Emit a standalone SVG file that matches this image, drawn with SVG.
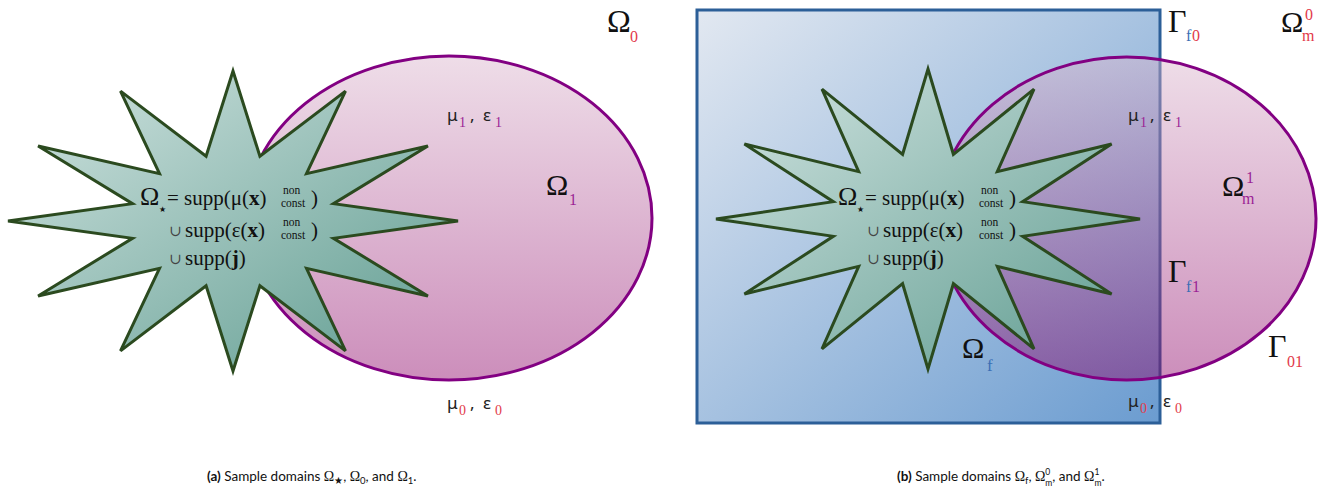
<svg xmlns="http://www.w3.org/2000/svg" width="1320" height="489" viewBox="0 0 1320 489">
<defs>
<linearGradient id="pinkG" x1="0" y1="0" x2="0" y2="1">
<stop offset="0" stop-color="#dab4cc"/>
<stop offset="1" stop-color="#8e0468"/>
</linearGradient>
<linearGradient id="starG" x1="0" y1="0" x2="1" y2="1">
<stop offset="0" stop-color="#d2e4e1"/>
<stop offset="1" stop-color="#5f9c90"/>
</linearGradient>
<linearGradient id="blueG" x1="0" y1="0" x2="1" y2="1">
<stop offset="0" stop-color="#e2e8f1"/>
<stop offset="1" stop-color="#6b9cd0"/>
</linearGradient>
</defs>
<style>
.ell{fill:url(#pinkG);fill-opacity:0.45;stroke:#820082;stroke-width:3}
.star{fill:url(#starG);stroke:#2b4a1f;stroke-width:3;stroke-linejoin:miter}
.box{fill:url(#blueG);stroke:#2c5f98;stroke-width:3}
.m{font-family:"Liberation Serif","DejaVu Serif",serif;fill:#111}
.s{font-family:"Noto Sans","DejaVu Sans",sans-serif;fill:#222}
.cap{font-family:Lato,"Liberation Sans",sans-serif;font-size:13.5px;fill:#111}
.cm{font-family:"Liberation Serif","DejaVu Serif",serif;font-size:14px}
.cs{font-size:9.5px}
.cs2{font-size:8.5px}
.red{fill:#e23a4a}
.pur{fill:#9b1f95}
.blu{fill:#3c6fb5}
.cup{fill:#444;font-size:15px}
.nc{font-size:11.5px}
</style>
<g id="connectors"/>

<!-- Panel (a) -->
<g id="panel-a">
<g id="omega1-a"><ellipse class="ell" cx="449" cy="218" rx="203" ry="162"/></g>
<g id="star-a">
<polygon class="star" points="233,71 259.9,156.3 345.5,91.1 306.5,173.6 427.9,146 333.5,203.7 458,221 333.5,238.3 427.9,296 306.5,268.4 345.5,350.9 259.9,285.7 233,371 206.1,285.7 120.5,350.9 159.5,268.4 38.1,296 132.5,238.3 8,221 132.5,203.7 38.1,146 159.5,173.6 120.5,91.1 206.1,156.3"/>
<text class="m" font-size="21">
<tspan x="140" y="205" font-size="26">Ω</tspan><tspan x="159" y="212" font-size="8">★</tspan><tspan x="167" y="205">=</tspan><tspan x="184" y="205">supp(μ(</tspan><tspan font-weight="bold">x</tspan><tspan>)</tspan>
</text>
<text class="m nc" x="283" y="194">non</text><text class="m nc" x="281" y="207">const</text><text class="m" x="311" y="205" font-size="21">)</text>
<text class="m" font-size="21">
<tspan x="169" y="236" class="cup">∪</tspan><tspan x="185" y="237">supp(ε(</tspan><tspan font-weight="bold">x</tspan><tspan>)</tspan>
</text>
<text class="m nc" x="283" y="226">non</text><text class="m nc" x="281" y="239">const</text><text class="m" x="311" y="237" font-size="21">)</text>
<text class="m" font-size="21">
<tspan x="169" y="264" class="cup">∪</tspan><tspan x="185" y="265">supp(</tspan><tspan font-weight="bold">j</tspan><tspan>)</tspan>
</text>
</g>
<g id="labels-a">
<text class="m" x="607" y="32" font-size="32">Ω</text><text class="m red" x="630" y="42" font-size="16">0</text>
<text class="m" x="546" y="195" font-size="30">Ω</text><text class="m pur" x="569" y="205" font-size="16">1</text>
<text class="s" x="447" y="121" font-size="17">μ</text><text class="m pur" x="459" y="127" font-size="14">1</text><text class="s" x="470" y="121" font-size="17">,</text><text class="s" x="483" y="121" font-size="17">ε</text><text class="m pur" x="495" y="127" font-size="14">1</text>
<text class="s" x="447" y="409" font-size="17">μ</text><text class="m red" x="459" y="415" font-size="14">0</text><text class="s" x="470" y="409" font-size="17">,</text><text class="s" x="483" y="409" font-size="17">ε</text><text class="m red" x="495" y="415" font-size="14">0</text>
</g>
<g id="caption-a">
<text class="cap" x="207" y="481"><tspan font-weight="bold">(a)</tspan> Sample domains <tspan class="cm">Ω</tspan><tspan class="cs" dy="3">★</tspan><tspan dy="-3">, </tspan><tspan class="cm">Ω</tspan><tspan class="cs" dy="3">0</tspan><tspan dy="-3">, and </tspan><tspan class="cm">Ω</tspan><tspan class="cs" dy="3">1</tspan><tspan dy="-3">.</tspan></text>
</g>
</g>

<!-- Panel (b) -->
<g id="panel-b">
<g id="omega-f"><rect class="box" x="697" y="10" width="463" height="413"/></g>
<g id="omega-m1"><ellipse class="ell" cx="1126.6" cy="218.5" rx="189.4" ry="161.5"/></g>
<g id="star-b">
<polygon class="star" points="928,69 953.4,154.3 1034,89.1 997.3,171.6 1111.6,144 1022.7,201.7 1140,219 1022.7,236.3 1111.6,294 997.3,266.4 1034,348.9 953.4,283.7 928,369 902.6,283.7 822,348.9 858.7,266.4 744.4,294 833.3,236.3 716,219 833.3,201.7 744.4,144 858.7,171.6 822,89.1 902.6,154.3"/>
<text class="m" font-size="21">
<tspan x="838" y="205" font-size="26">Ω</tspan><tspan x="857" y="212" font-size="8">★</tspan><tspan x="865" y="205">=</tspan><tspan x="882" y="205">supp(μ(</tspan><tspan font-weight="bold">x</tspan><tspan>)</tspan>
</text>
<text class="m nc" x="981" y="194">non</text><text class="m nc" x="979" y="207">const</text><text class="m" x="1009" y="205" font-size="21">)</text>
<text class="m" font-size="21">
<tspan x="867" y="236" class="cup">∪</tspan><tspan x="883" y="237">supp(ε(</tspan><tspan font-weight="bold">x</tspan><tspan>)</tspan>
</text>
<text class="m nc" x="981" y="226">non</text><text class="m nc" x="979" y="239">const</text><text class="m" x="1009" y="237" font-size="21">)</text>
<text class="m" font-size="21">
<tspan x="867" y="264" class="cup">∪</tspan><tspan x="883" y="265">supp(</tspan><tspan font-weight="bold">j</tspan><tspan>)</tspan>
</text>
</g>
<g id="labels-b">
<text class="m" x="1168" y="32" font-size="32">Γ</text><text class="m blu" x="1186" y="41" font-size="16">f</text><text class="m red" x="1192" y="41" font-size="16">0</text>
<text class="m" x="1281" y="32" font-size="30">Ω</text><text class="m red" x="1305" y="20" font-size="16">0</text><text class="m red" x="1302" y="41" font-size="16">m</text>
<text class="s" x="1128" y="121" font-size="17">μ</text><text class="m pur" x="1140" y="127" font-size="14">1</text><text class="s" x="1150" y="121" font-size="17">,</text><text class="s" x="1163" y="121" font-size="17">ε</text><text class="m pur" x="1175" y="127" font-size="14">1</text>
<text class="m" x="1222" y="196" font-size="30">Ω</text><text class="m pur" x="1246" y="183" font-size="16">1</text><text class="m pur" x="1242" y="204" font-size="16">m</text>
<text class="m" x="1168" y="282" font-size="32">Γ</text><text class="m blu" x="1186" y="292" font-size="16">f</text><text class="m pur" x="1192" y="292" font-size="16">1</text>
<text class="m" x="1268" y="357" font-size="32">Γ</text><text class="m red" x="1287" y="367" font-size="16">01</text>
<text class="m" x="962" y="358" font-size="30">Ω</text><text class="m blu" x="987" y="371" font-size="17">f</text>
<text class="s" x="1128" y="407" font-size="17">μ</text><text class="m red" x="1140" y="413" font-size="14">0</text><text class="s" x="1150" y="407" font-size="17">,</text><text class="s" x="1163" y="407" font-size="17">ε</text><text class="m red" x="1175" y="413" font-size="14">0</text>
</g>
<g id="caption-b">
<text class="cap" x="897" y="481"><tspan font-weight="bold">(b)</tspan> Sample domains <tspan class="cm">Ω</tspan><tspan class="cs" dy="3">f</tspan><tspan dy="-3">, </tspan><tspan class="cm">Ω</tspan><tspan class="cs2" dy="-6.5">0</tspan><tspan class="cs2" dx="-5" dy="11">m</tspan><tspan dy="-4.5">, and </tspan><tspan class="cm">Ω</tspan><tspan class="cs2" dy="-6.5">1</tspan><tspan class="cs2" dx="-5" dy="11">m</tspan><tspan dy="-4.5">.</tspan></text>
</g>
</g>
</svg>
